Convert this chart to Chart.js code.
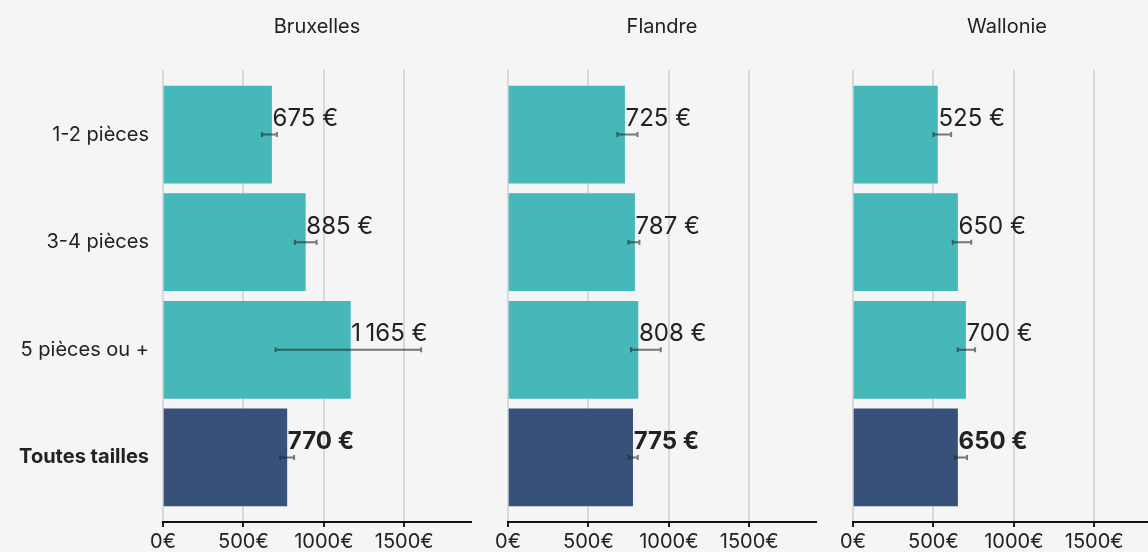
<!DOCTYPE html>
<html>
<head>
<meta charset="utf-8">
<script src="https://cdn.jsdelivr.net/npm/chart.js@4.4.1/dist/chart.umd.min.js"></script>
<style>
  body { margin: 0; background: #f5f5f5; width: 1148px; height: 552px; overflow: hidden; position: relative; }
  canvas { position: absolute; top: 0; }
</style>
</head>
<body>
<canvas id="c0" width="480" height="552" style="left:0px"></canvas>
<canvas id="c1" width="334" height="552" style="left:492px"></canvas>
<canvas id="c2" width="334" height="552" style="left:837px"></canvas>
<script>
// catégories et régions
var categories = ["1-2 pièces", "3-4 pièces", "5 pièces ou +", "Toutes tailles"];
var regions = ["Bruxelles", "Flandre", "Wallonie"];

// loyers médians
var loyerBruxelles = [675, 885, 1165, 770];
var loyerFlandre = [725, 787, 808, 775];
var loyerWallonie = [525, 650, 700, 650];

// intervalles (bas / haut)
var basBruxelles = [615, 820, 700, 728];
var hautBruxelles = [708, 955, 1605, 815];
var basFlandre = [680, 749, 765, 751];
var hautFlandre = [805, 817, 950, 807];
var basWallonie = [500, 620, 651, 633];
var hautWallonie = [610, 735, 759, 709];

var xTicks = [0, 500, 1000, 1500];
var xMax = 1915;

var police = "Inter, 'Noto Sans', sans-serif";
var teal = "#46B8BA";
var marine = "#37517A";

function dessine(k, loyers, bas, haut) {
    // étiquettes de valeur + barres d'erreur
    var etiquettes = {
        id: "etiquettes" + k,
        afterDatasetsDraw: function (chart) {
            var ctx = chart.ctx;
            var xs = chart.scales.x, ys = chart.scales.y;
            ctx.save();
            loyers.forEach(function (v, i) {
                var y = ys.getPixelForValue(i);
                var x0 = xs.getPixelForValue(bas[i]);
                var x1 = xs.getPixelForValue(haut[i]);
                ctx.strokeStyle = "rgba(35,35,35,0.6)";
                ctx.lineWidth = 2;
                ctx.beginPath();
                ctx.moveTo(x0, y); ctx.lineTo(x1, y);
                ctx.moveTo(x0, y - 2.5); ctx.lineTo(x0, y + 2.5);
                ctx.moveTo(x1, y - 2.5); ctx.lineTo(x1, y + 2.5);
                ctx.stroke();

                ctx.fillStyle = "#222";
                ctx.font = (i === 3 ? "bold " : "") + "24px " + police;
                ctx.textAlign = "left";
                ctx.textBaseline = "alphabetic";
                ctx.fillText(v.toLocaleString("fr-FR") + " €", xs.getPixelForValue(v) + 1, y - 8.5);
            });
            ctx.restore();
        }
    };

    var premier = k === 0;

    new Chart(document.getElementById("c" + k).getContext("2d"), {
        type: "bar",
        data: {
            datasets: [{
                data: loyers.map(function (v, i) { return { x: v, y: i }; }),
                backgroundColor: loyers.map(function (v, i) { return i === 3 ? marine : teal; }),
                borderWidth: 0,
                barThickness: 97
            }]
        },
        options: {
            indexAxis: "y",
            responsive: false,
            animation: false,
            layout: { padding: { left: 0, right: premier ? 9 : 10, top: 0, bottom: 0 } },
            plugins: {
                legend: { display: false },
                tooltip: { enabled: false },
                title: {
                    display: true,
                    text: regions[k],
                    fullSize: false,
                    color: "#222",
                    font: { family: police, size: 20, weight: "normal", lineHeight: 1.2 },
                    padding: { top: 15, bottom: 31 }
                }
            },
            scales: {
                x: {
                    type: "linear",
                    min: 0,
                    max: xMax,
                    afterBuildTicks: function (s) {
                        s.ticks = xTicks.map(function (t) { return { value: t }; });
                    },
                    afterFit: function (s) { s.height = 30; },
                    ticks: {
                        color: "#222",
                        font: { family: police, size: 20 },
                        padding: 3,
                        maxRotation: 0,
                        callback: function (v) { return v + "€"; }
                    },
                    grid: {
                        color: "#d9d9d9",
                        lineWidth: 2,
                        tickColor: "#222",
                        tickLength: 5,
                        tickWidth: 2
                    },
                    border: { display: true, color: "#111", width: 2 }
                },
                y: {
                    type: "linear",
                    reverse: true,
                    offset: false,
                    min: -0.6,
                    max: 3.6,
                    afterBuildTicks: function (s) {
                        s.ticks = categories.map(function (c, i) { return { value: i }; });
                    },
                    afterFit: function (s) { s.width = premier ? 163 : 16; },
                    ticks: {
                        display: premier,
                        color: "#222",
                        padding: 14,
                        font: function (c) {
                            return { family: police, size: 20, weight: c.index === 3 ? "bold" : "normal" };
                        },
                        callback: function (v) { return categories[v]; }
                    },
                    grid: { display: false, drawTicks: false, offset: false },
                    border: { display: false }
                }
            }
        },
        plugins: [etiquettes]
    });
}

dessine(0, loyerBruxelles, basBruxelles, hautBruxelles);
dessine(1, loyerFlandre, basFlandre, hautFlandre);
dessine(2, loyerWallonie, basWallonie, hautWallonie);
</script>
</body>
</html>
